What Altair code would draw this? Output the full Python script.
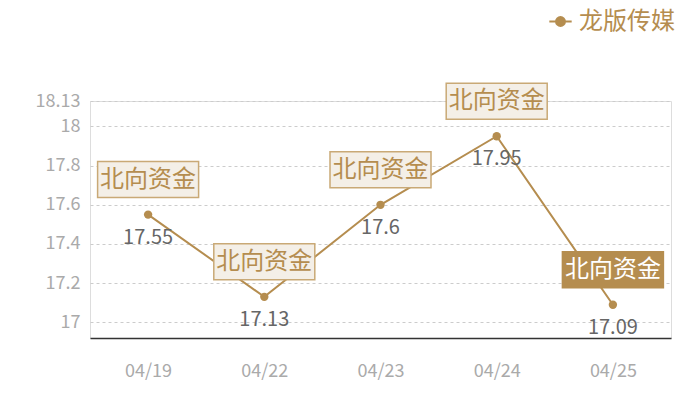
import altair as alt
import pandas as pd

dates = ["04/19", "04/22", "04/23", "04/24", "04/25"]
values = [17.55, 17.13, 17.6, 17.95, 17.09]
tags = ["北向资金", "北向资金", "北向资金", "北向资金", "北向资金"]
highlight = [0, 0, 0, 0, 1]
series = "龙版传媒"
y_ticks = [17, 17.2, 17.4, 17.6, 17.8, 18, 18.13]

df = pd.DataFrame({"date": dates, "value": values, "tag": tags,
                   "hl": highlight, "series": [series] * len(dates)})

GOLD = "#b58d4f"
FONT = "Noto Sans CJK SC"

x = alt.X("date:N", sort=dates, scale=alt.Scale(type="point", padding=0.5),
          axis=alt.Axis(title=None, labelAngle=0, ticks=False, domain=True,
                        domainColor="#333333", domainWidth=1.5,
                        labelColor="#aaaaaa", labelFontSize=18, labelFont=FONT,
                        labelPadding=24, grid=False))
y = alt.Y("value:Q", scale=alt.Scale(domain=[16.92, 18.13], nice=False, zero=False),
          axis=alt.Axis(title=None, values=y_ticks, labelExpr="format(datum.value, '~g')",
                        ticks=False, domain=False, grid=True,
                        gridColor="#cccccc", gridDash=[3, 3], gridWidth=1,
                        labelColor="#aaaaaa", labelFontSize=18, labelFont=FONT,
                        labelPadding=10))

base = alt.Chart(df).encode(x=x, y=y)

color = alt.Color("series:N", scale=alt.Scale(range=[GOLD]),
                  legend=alt.Legend(title=None, orient="none", legendX=458, legendY=-92,
                                    symbolType="M-1,0H1M-0.4,0A0.4,0.4,0,1,1,0.4,0A0.4,0.4,0,1,1,-0.4,0Z",
                                    symbolSize=500, symbolStrokeWidth=2,
                                    symbolFillColor=GOLD, symbolStrokeColor=GOLD,
                                    labelFontSize=24, labelColor=GOLD, labelFont=FONT,
                                    labelOffset=6))

line = base.mark_line(strokeWidth=2).encode(color=color)
pts = base.mark_point(filled=True, size=70, opacity=1, color=GOLD)
vals = base.mark_text(fontSize=20, color="#666666", font=FONT, yOffset=23,
                      baseline="middle").encode(text=alt.Text("value:Q", format="~g"))
boxes = base.mark_rect(width=101, height=36, yOffset=-35, strokeWidth=1.5).encode(
    fill=alt.condition("datum.hl == 1", alt.value(GOLD), alt.value("#f4efe7")),
    stroke=alt.condition("datum.hl == 1", alt.value(GOLD), alt.value("#c9a976")))
tagtext = base.mark_text(fontSize=24, font=FONT, yOffset=-35, baseline="middle").encode(
    text="tag:N",
    color=alt.condition("datum.hl == 1", alt.value("#ffffff"), alt.value(GOLD)))

chart = alt.layer(line, pts, vals, boxes, tagtext).properties(
    width=581, height=237,
    autosize=alt.AutoSizeParams(type="none"),
    padding={"left": 82, "top": 93, "right": 20, "bottom": 54},
).configure_view(stroke=None).configure(font=FONT)

chart.save("out.html", embed_options={"renderer": "svg", "actions": False})
